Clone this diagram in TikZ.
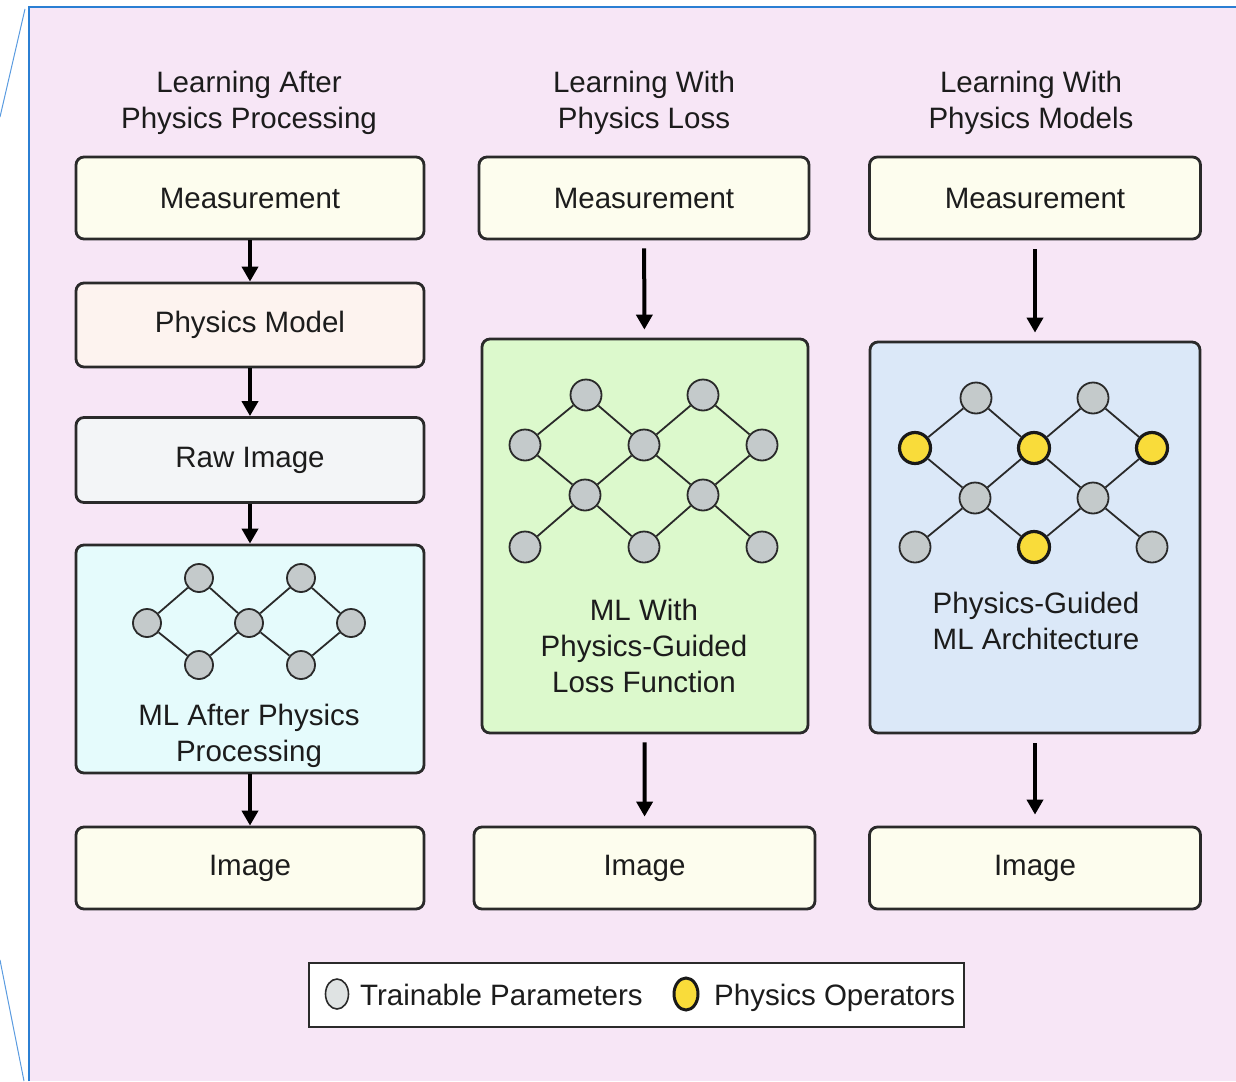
\documentclass[tikz,border=0pt]{standalone}
\usepackage{fontspec}
\setmainfont{Liberation Sans}
\usetikzlibrary{arrows.meta,shapes.geometric}
\definecolor{bgpink}{HTML}{F7E6F6}
\definecolor{frameblue}{HTML}{2B7FD3}
\definecolor{lineblue}{HTML}{5A9BE0}
\definecolor{boxline}{HTML}{2A2A2A}
\definecolor{txt}{HTML}{1C1C1C}
\definecolor{fmeas}{HTML}{FDFDEE}
\definecolor{fphys}{HTML}{FDF3EF}
\definecolor{fraw}{HTML}{F3F5F7}
\definecolor{fcyan}{HTML}{E5FBFC}
\definecolor{fgreen}{HTML}{DCF9CC}
\definecolor{fblue}{HTML}{DBE8F8}
\definecolor{netgray}{HTML}{C4CACB}
\definecolor{leggray}{HTML}{DFE3E3}
\definecolor{opyellow}{HTML}{F9DC3A}
\tikzset{
  box/.style={draw=boxline, line width=2.8pt, rounded corners=8pt, inner sep=0pt,
    font=\fontsize{29.5}{36}\selectfont, text=txt, align=center},
  title/.style={font=\fontsize{29.5}{36}\selectfont, text=txt, align=center, inner sep=0pt},
  nn/.style={circle, draw=boxline, line width=1.8pt, fill=netgray, minimum size=31pt, inner sep=0pt},
  sn/.style={circle, draw=boxline, line width=1.8pt, fill=netgray, minimum size=28pt, inner sep=0pt},
  yn/.style={circle, draw=black!90, line width=3.2pt, fill=opyellow, minimum size=31pt, inner sep=0pt},
  ed/.style={draw=boxline, line width=1.8pt},
  arr/.style={draw=black, line width=4pt, -{Triangle[length=15pt,width=16pt]}},
  lbl/.style={font=\fontsize{29.5}{36}\selectfont, text=txt, align=center, inner sep=0pt},
}
\newcommand\bignet[4]{%
  \node[nn] (#1a) at (-58,0) {};
  \node[nn] (#1b) at (59,0) {};
  \node[#2] (#1c) at (-119,50) {};
  \node[#2] (#1d) at (0,50) {};
  \node[#2] (#1e) at (118,50) {};
  \node[nn] (#1f) at (-59,100) {};
  \node[nn] (#1g) at (59,100) {};
  \node[nn] (#1h) at (-119,#4) {};
  \node[#3] (#1i) at (0,#4) {};
  \node[nn] (#1j) at (118,#4) {};
  \foreach \p/\q in {a/c,a/d,b/d,b/e,c/f,d/f,d/g,e/g,f/h,f/i,g/i,g/j}
    \draw[ed] (#1\p) -- (#1\q);
}
\begin{document}
\begin{tikzpicture}[x=1pt,y=-1pt]
\useasboundingbox (0,0) rectangle (1236,1081);
% background and frame
\fill[bgpink] (29,7) rectangle (1236,1081);
\draw[frameblue, line width=2pt] (29,1081) -- (29,7) -- (1236,7);
\draw[lineblue, line width=1pt] (25,9) -- (0,117);
\draw[lineblue, line width=1pt] (0,960) -- (24,1081);

% titles
\node[title] (t1) at (249,103) {Learning After\\Physics Processing};
\node[title] (t2) at (644,103) {Learning With\\Physics Loss};
\node[title] (t3) at (1031,103) {Learning With\\Physics Models};

% column 1
\node[box, fill=fmeas, minimum width=348pt, minimum height=82pt] (m1) at (250,198) {Measurement};
\node[box, fill=fphys, minimum width=348pt, minimum height=84pt] (p1) at (250,325) {Physics Model};
\node[box, fill=fraw, minimum width=348pt, minimum height=85pt] (r1) at (250,460) {Raw Image};
\node[box, fill=fcyan, minimum width=348pt, minimum height=228pt] (ml1) at (250,659) {};
\node[box, fill=fmeas, minimum width=348pt, minimum height=82pt] (i1) at (250,868) {Image};
\draw[arr] (m1) -- (p1);
\draw[arr] (p1) -- (r1);
\draw[arr] (r1) -- (ml1);
\draw[arr] (ml1) -- (i1);
\node[sn] (s1) at (199,578) {};
\node[sn] (s2) at (301,578) {};
\node[sn] (s3) at (147,623) {};
\node[sn] (s4) at (249,623) {};
\node[sn] (s5) at (351,623) {};
\node[sn] (s6) at (199,665) {};
\node[sn] (s7) at (301,665) {};
\foreach \p/\q in {s3/s1,s1/s4,s4/s2,s2/s5,s3/s6,s6/s4,s4/s7,s7/s5}
  \draw[ed] (\p) -- (\q);
\node[lbl] (l1) at (249,736) {ML After Physics\\Processing};

% column 2
\node[box, fill=fmeas, minimum width=330pt, minimum height=82pt] (m2) at (644,198) {Measurement};
\node[box, fill=fgreen, minimum width=326pt, minimum height=394pt] (ml2) at (645,536) {};
\node[box, fill=fmeas, minimum width=341pt, minimum height=82pt] (i2) at (644.5,868) {Image};
\draw[arr, shorten <=8pt, shorten >=8pt] (m2) -- (ml2);
\draw[arr, shorten <=8pt, shorten >=9pt] (ml2) -- (i2);
\begin{scope}[shift={(644,395)}]
  \bignet{g}{nn}{nn}{152}
\end{scope}
\node[lbl] (l2) at (644,646) {ML With\\Physics-Guided\\Loss Function};

% column 3
\node[box, fill=fmeas, minimum width=331pt, minimum height=82pt] (m3) at (1035,198) {Measurement};
\node[box, fill=fblue, minimum width=330pt, minimum height=391pt] (ml3) at (1035,537.5) {};
\node[box, fill=fmeas, minimum width=331pt, minimum height=82pt] (i3) at (1035,868) {Image};
\draw[arr, shorten <=9pt, shorten >=8pt] (m3) -- (ml3);
\draw[arr, shorten <=9pt, shorten >=11pt] (ml3) -- (i3);
\begin{scope}[shift={(1034,398)}]
  \bignet{b}{yn}{yn}{149}
\end{scope}
\node[lbl] (l3) at (1036,621) {Physics-Guided\\ML Architecture};

% legend
\node[draw=boxline, line width=2pt, fill=white, minimum width=655pt, minimum height=64pt, inner sep=0pt] (leg) at (636.5,995) {};
\node[ellipse, draw=boxline, line width=1.6pt, fill=leggray, minimum width=23pt, minimum height=30pt, inner sep=0pt] (lg1) at (337,994) {};
\node[lbl, anchor=base west] (lt1) at (360,1005) {Trainable Parameters};
\node[ellipse, draw=black!90, line width=3pt, fill=opyellow, minimum width=24pt, minimum height=32pt, inner sep=0pt] (lg2) at (686,994) {};
\node[lbl, anchor=base west] (lt2) at (714,1005) {Physics Operators};
\end{tikzpicture}
\end{document}
